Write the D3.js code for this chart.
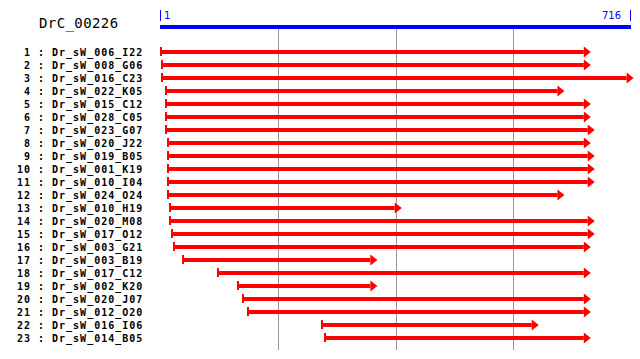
<!DOCTYPE html>
<html>
<head>
<meta charset="utf-8">
<script src="https://cdn.jsdelivr.net/npm/d3@7"></script>
<style>
  body { margin: 0; background: #fff; }
  .lbl { font-family: "DejaVu Sans Mono", monospace; font-weight: bold; font-size: 10px; letter-spacing: 1px; }
</style>
</head>
<body>
<svg id="chart" width="640" height="359"></svg>
<script>
// gene / read info
const geneName = 'DrC_00226';
const geneLength = 716;

const readNames = [
  'Dr_sW_006_I22', 'Dr_sW_008_G06', 'Dr_sW_016_C23', 'Dr_sW_022_K05', 'Dr_sW_015_C12',
  'Dr_sW_028_C05', 'Dr_sW_023_G07', 'Dr_sW_020_J22', 'Dr_sW_019_B05', 'Dr_sW_001_K19',
  'Dr_sW_010_I04', 'Dr_sW_024_O24', 'Dr_sW_010_H19', 'Dr_sW_020_M08', 'Dr_sW_017_O12',
  'Dr_sW_003_G21', 'Dr_sW_003_B19', 'Dr_sW_017_C12', 'Dr_sW_002_K20', 'Dr_sW_020_J07',
  'Dr_sW_012_O20', 'Dr_sW_016_I06', 'Dr_sW_014_B05'
];
const readStarts = [1, 3, 3, 9, 9, 9, 9, 12, 12, 12, 12, 12, 15, 15, 18, 21, 35, 88, 118, 126, 133, 246, 250];
const readEnds = [655, 655, 720, 615, 655, 655, 661, 655, 661, 661, 661, 615, 368, 661, 661, 655, 331, 655, 331, 655, 655, 576, 655];

const svg = d3.select('#chart');

const x = d3.scaleLinear().domain([1, geneLength]).range([160, 631]);
const y = d3.scaleLinear().domain([0, readNames.length - 1]).range([52, 338]);

// grid lines at the quarters of the gene
const gridVals = [1, 2, 3].map((k) => 1 + (geneLength - 1) * k / 4);
svg.append('g')
  .selectAll('line')
  .data(gridVals)
  .enter()
  .append('line')
  .attr('x1', (d) => Math.round(x(d)) + 0.5)
  .attr('x2', (d) => Math.round(x(d)) + 0.5)
  .attr('y1', 29)
  .attr('y2', 350)
  .attr('stroke', '#999')
  .attr('stroke-width', 1)

// gene title
svg.append('text')
  .text(geneName)
  .attr('x', 39)
  .attr('y', 28)
  .attr('font-family', '"DejaVu Sans Mono", monospace')
  .attr('font-size', 14)
  .attr('letter-spacing', 0.4)

// gene bar
svg.append('rect')
  .attr('x', x(1))
  .attr('y', 25)
  .attr('width', x(geneLength) - x(1))
  .attr('height', 4)
  .attr('fill', '#0000ff')

const ends = svg.append('g').attr('fill', '#0000ff')
  .attr('font-family', '"DejaVu Sans", sans-serif')
  .attr('font-size', 10)
ends.append('rect').attr('x', x(1)).attr('y', 10).attr('width', 1).attr('height', 11)
ends.append('text').text('1').attr('x', x(1) + 4).attr('y', 19)
ends.append('rect').attr('x', x(geneLength) - 1).attr('y', 10).attr('width', 1).attr('height', 11)
ends.append('text').text(String(geneLength)).attr('x', x(geneLength) - 10).attr('y', 19).attr('text-anchor', 'end')

// read labels
const labels = svg.append('g').attr('class', 'lbl')
labels.selectAll('text.num')
  .data(readNames)
  .enter()
  .append('text')
  .attr('class', 'num')
  .text((d, i) => i + 1)
  .attr('x', 31)
  .attr('y', (d, i) => y(i) + 4)
  .attr('text-anchor', 'end')
labels.selectAll('text.name')
  .data(readNames)
  .enter()
  .append('text')
  .attr('class', 'name')
  .text((d) => ': ' + d)
  .attr('x', 38)
  .attr('y', (d, i) => y(i) + 4)

// read arrows
const reads = readNames.map((name, i) => ({ name: name, start: readStarts[i], end: readEnds[i], row: i }));
const arrows = svg.append('g').attr('fill', '#ff0000')

arrows.selectAll('rect.tick')
  .data(reads)
  .enter()
  .append('rect')
  .attr('class', 'tick')
  .attr('x', (d) => Math.round(x(d.start)))
  .attr('y', (d) => y(d.row) - 5)
  .attr('width', 2)
  .attr('height', 9)

arrows.selectAll('rect.shaft')
  .data(reads)
  .enter()
  .append('rect')
  .attr('class', 'shaft')
  .attr('x', (d) => Math.round(x(d.start)))
  .attr('y', (d) => y(d.row) - 2)
  .attr('width', (d) => x(d.end) - 7 - Math.round(x(d.start)))
  .attr('height', 4)

arrows.selectAll('path.head')
  .data(reads)
  .enter()
  .append('path')
  .attr('class', 'head')
  .attr('d', (d) => {
    const tip = x(d.end);
    const cy = y(d.row);
    return `M${tip - 7},${cy - 5.5}L${tip},${cy}L${tip - 7},${cy + 5.5}Z`;
  })
</script>
</body>
</html>
